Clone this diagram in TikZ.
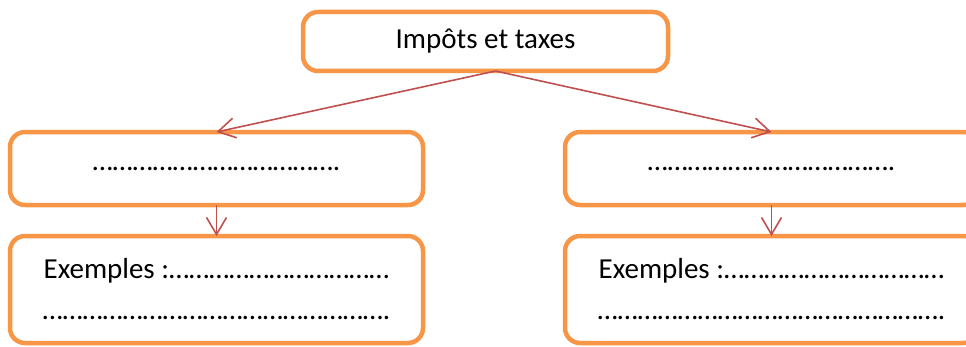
\documentclass[tikz,border=0pt]{standalone}
\usepackage{fontspec}
\setmainfont{Carlito}
\usetikzlibrary{arrows.meta,positioning}
\definecolor{boxorange}{HTML}{F79646}
\definecolor{arrowred}{HTML}{C0504D}

\begin{document}
\begin{tikzpicture}[
    x = 1pt, y = 1pt, % one unit per pixel
    > = {Straight Barb[length=17pt,width=20pt]}, % arrow head style
    node distance = 31pt, % distance between boxes
    font = \fontsize{29}{41}\selectfont
    ]

    \tikzset{
    box/.style = {
    draw = boxorange,
    line width = 4.5pt,
    rounded corners = 15pt,
    fill = white,
    outer sep = 0pt,
    minimum width = 413pt,
    align = center
    },
    link/.style = {
    ->,
    draw = arrowred,
    line width = 1.6pt
    }
    }
    \useasboundingbox (0,0) rectangle (966,346);

    \node[box, minimum width = 365pt, minimum height = 59pt] (impots) at (485.5,304.5) {Impôts et taxes};
    \node[box, minimum height = 73pt] (cat1) at (216.5,177.5) {……………………………….};
    \node[box, minimum height = 73pt, right = 142pt of cat1] (cat2) {……………………………….};
    \node[box, minimum height = 107pt, below = of cat1] (ex1) {Exemples :…………………………… \\ …………………………………………….};
    \node[box, minimum height = 107pt, below = of cat2] (ex2) {Exemples :…………………………… \\ …………………………………………….};

    \draw[link] ([xshift=10pt]impots.south) -- (cat1.north);
    \draw[link] ([xshift=10pt]impots.south) -- (cat2.north);
    \draw[link] (cat1) -- (ex1);
    \draw[link] (cat2) -- (ex2);
\end{tikzpicture}
\end{document}
